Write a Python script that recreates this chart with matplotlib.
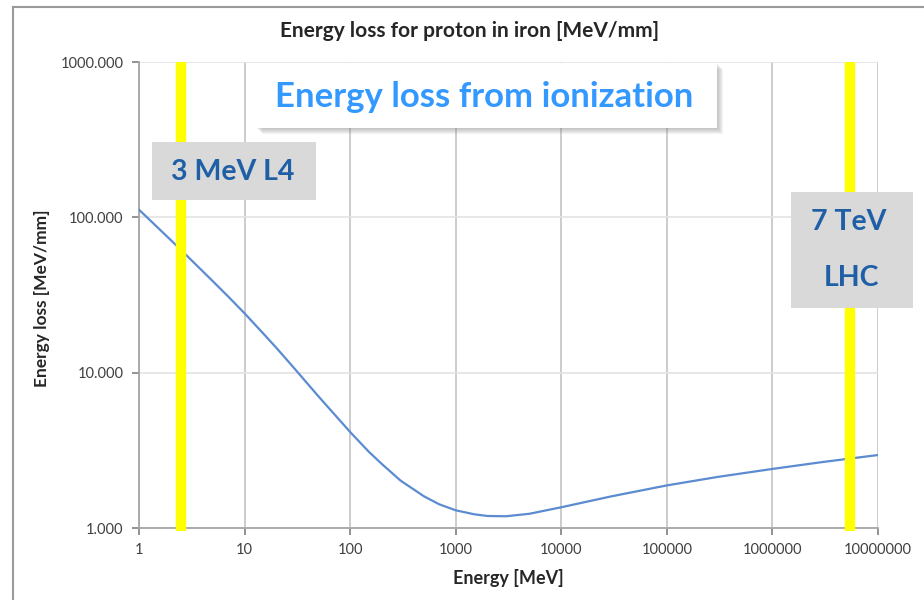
import matplotlib
matplotlib.use("Agg")
import matplotlib.pyplot as plt
from matplotlib.patches import Rectangle

# values
energy = [1, 2, 3, 5, 7, 10, 15, 20, 30, 50, 70, 100, 150, 200, 300, 500, 700,
          1000, 1500, 2000, 3000, 5000, 10000, 30000, 100000, 300000,
          1000000, 3000000, 10000000]
loss = [112, 71.4, 54.6, 38.8, 30.9, 24.1, 17.9, 14.45, 10.55, 7.05, 5.45, 4.15,
        3.1, 2.58, 2.02, 1.6, 1.42, 1.3, 1.225, 1.195, 1.19, 1.235, 1.36, 1.6,
        1.88, 2.13, 2.40, 2.66, 2.95]
marker_energy = [2.5, 5.4e6]
xticks = [1, 10, 100, 1000, 10000, 100000, 1000000, 10000000]
xtick_labels = [str(t) for t in xticks]
yticks = [1, 10, 100, 1000]
ytick_labels = ["1.000", "10.000", "100.000", "1000.000"]

W, H = 924, 600
plt.rcParams['font.family'] = ['Lato', 'DejaVu Sans']

fig = plt.figure(figsize=(W / 100, H / 100), dpi=100)

def fx(x):
    return x / W

def fy(y):
    return 1 - y / H

ax = fig.add_axes([fx(139), fy(528), fx(878) - fx(139), fy(62) - fy(528)])
ax.set_xscale('log')
ax.set_yscale('log')
ax.set_xlim(1, 1e7)
ax.set_ylim(1, 1000)

ax.plot(energy, loss, color='#5b8bd0', lw=1.6, zorder=3)
for e in marker_energy:
    ax.axvline(e, ymin=-0.007, ymax=1, color='#ffff00', lw=7.5, zorder=4,
               clip_on=False, solid_capstyle='butt')

ax.set_xticks(xticks)
ax.set_xticklabels(xtick_labels)
ax.set_yticks(yticks)
ax.set_yticklabels(ytick_labels)
ax.minorticks_off()
ax.tick_params(axis='both', labelsize=10.5, colors='#7f7f7f', labelcolor='#404040', width=1.2)
ax.tick_params(axis='x', length=5, pad=6)
ax.tick_params(axis='y', length=5, pad=6)

ax.grid(True, axis='x', color='#c4c4c4', lw=1.2)
ax.grid(True, axis='y', color='#e3e3e3', lw=1.2)
ax.set_axisbelow(True)
for s in ['top', 'right']:
    ax.spines[s].set_visible(False)
for s in ['left', 'bottom']:
    ax.spines[s].set_color('#a6a6a6')
    ax.spines[s].set_linewidth(1.3)

fig.text(fx(470), fy(31), 'Energy loss for proton in iron [MeV/mm]', ha='center', va='center',
         fontsize=15, fontweight='bold', color='#262626')
fig.text(fx(42), fy(298), 'Energy loss [MeV/mm]', rotation=90, ha='center', va='center',
         fontsize=12.5, fontweight='bold', color='#262626')
fig.text(fx(508), fy(578), 'Energy [MeV]', ha='center', va='center',
         fontsize=13, fontweight='bold', color='#262626')

# outer chart frame
fig.add_artist(plt.Line2D([fx(13), fx(13)], [fy(7), 0], color='#9a9a9a', lw=1.5))
fig.add_artist(plt.Line2D([fx(13), 1], [fy(7), fy(7)], color='#9a9a9a', lw=1.5))

# boxes
def box(x0, y0, x1, y1, color, z=5, alpha=1.0):
    fig.add_artist(Rectangle((fx(x0), fy(y1)), fx(x1) - fx(x0), fy(y0) - fy(y1),
                             facecolor=color, edgecolor='none', zorder=z, alpha=alpha))

# soft shadow behind the white title box
for d in range(1, 7):
    box(256 + d, 63 + d, 717 + d, 128 + d, '#808080', 5, 0.09)
box(256, 63, 717, 128, 'white', 6)
fig.text(fx(484), fy(97), 'Energy loss from ionization', ha='center', va='center',
         fontsize=25, fontweight='bold', color='#3399ff', zorder=7)

box(152, 142, 316, 200, '#d9d9d9', 6)
fig.text(fx(233), fy(172), '3 MeV L4', ha='center', va='center',
         fontsize=20.5, fontweight='bold', color='#1f5fa6', zorder=7)

box(791, 192, 913, 308, '#d9d9d9', 6)
fig.text(fx(849), fy(222), '7 TeV', ha='center', va='center',
         fontsize=20.5, fontweight='bold', color='#1f5fa6', zorder=7)
fig.text(fx(852), fy(278), 'LHC', ha='center', va='center',
         fontsize=20.5, fontweight='bold', color='#1f5fa6', zorder=7)

fig.savefig('out.png', dpi=100)
